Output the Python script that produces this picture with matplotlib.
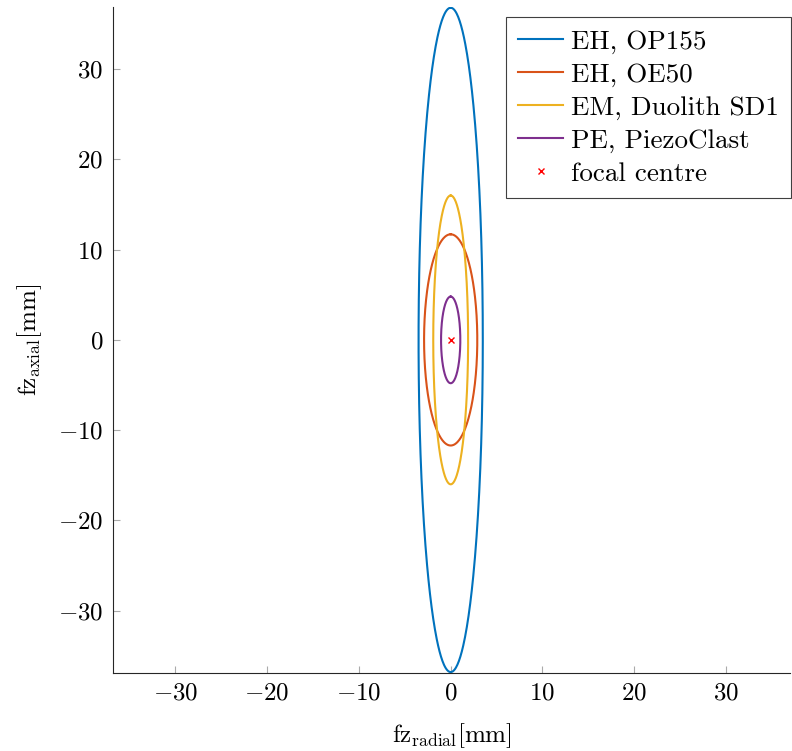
import numpy as np
import matplotlib as mpl
import matplotlib.pyplot as plt

mpl.use("Agg")

plt.rcParams.update({"font.family": "serif"})
plt.rcParams.update({"font.serif": ["cmr10"]})
plt.rcParams.update({"mathtext.fontset": "cm"})
plt.rcParams.update({"axes.formatter.use_mathtext": True})
plt.rcParams.update({"font.size": 18})

# focal zone semi-axes in mm (radial, axial)
labels = ["EH, OP155", "EH, OE50", "EM, Duolith SD1", "PE, PiezoClast"]
radial = [3.5, 2.9, 1.9, 1.05]
axial = [36.8, 11.7, 16.0, 4.8]
colors = ["#0072BD", "#D95319", "#EDB120", "#7E2F8E"]
ticks = [-30, -20, -10, 0, 10, 20, 30]

fig = plt.figure(figsize=(7.92, 7.51), dpi=100)
ax = fig.add_axes([0.1427, 0.1039, 0.855, 0.887])

t = np.linspace(0, 2 * np.pi, 400)
for lab, r, a, c in zip(labels, radial, axial, colors):
    ax.plot(r * np.sin(t), a * np.cos(t), color=c, lw=1.5, label=lab)
ax.plot([0], [0], "x", color="red", ms=4, mew=1, ls="none", label="focal centre")

lim = max(axial)
ax.set_xlim(-lim, lim + 0.2)
ax.set_ylim(-lim - 0.1, lim + 0.1)
ax.set_xticks(ticks)
ax.set_yticks(ticks)
ax.tick_params(direction="in", length=5, color="#aaaaaa", pad=7)
for s in ["top", "right"]:
    ax.spines[s].set_visible(False)
for s in ["left", "bottom"]:
    ax.spines[s].set_color("#262626")
ax.set_xlabel(r"fz$_{\mathrm{radial}}$[mm]", labelpad=12)
ax.set_ylabel(r"fz$_{\mathrm{axial}}$[mm]", labelpad=10)

leg = ax.legend(loc="upper right", fancybox=False, framealpha=1,
                edgecolor="#404040", handlelength=1.65, borderpad=0.45,
                labelspacing=0.33, handletextpad=0.3, borderaxespad=0,
                fontsize=19.5, bbox_to_anchor=(0.999, 0.977),
                bbox_transform=fig.transFigure)
leg.get_frame().set_linewidth(0.8)

plt.savefig("out.png", dpi=100)
